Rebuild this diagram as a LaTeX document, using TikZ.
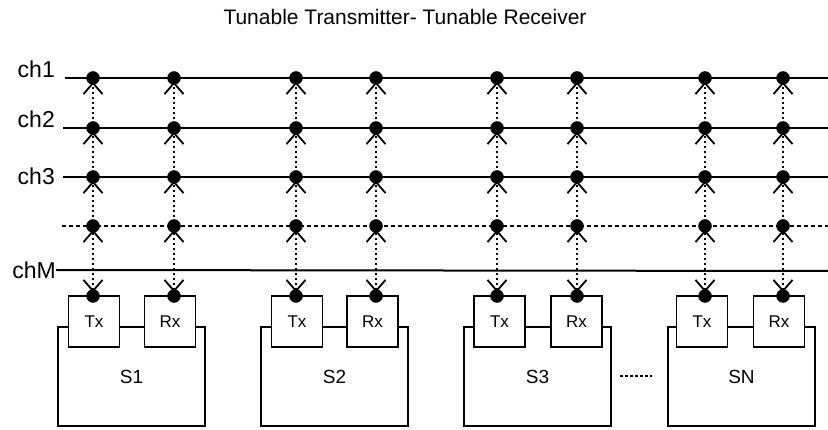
\documentclass[tikz,border=0pt]{standalone}
\usepackage{fontspec}
\setmainfont{Liberation Sans}
\usetikzlibrary{arrows.meta}
\usetikzlibrary{positioning}

\tikzset{
  dot/.style={draw,circle,fill=black,inner sep=0pt,minimum size=13pt},
  chan/.style={line width=2pt},
  dotchan/.style={line width=2pt,dash pattern=on 4pt off 3pt},
  link/.style={line width=1.8pt,dash pattern=on 2.5pt off 2.5pt,shorten >=-3pt,shorten <=-3pt},
  chlabel/.style={inner sep=0pt,font=\fontsize{23}{26}\selectfont},
  trx/.style={draw,fill=white,line width=1.8pt,minimum width=51pt,minimum height=51pt,inner sep=0pt,font=\fontsize{17}{20}\selectfont},
  station/.style={draw,line width=1.8pt,minimum width=147pt,minimum height=99pt,inner sep=0pt,font=\fontsize{19}{22}\selectfont},
  gap/.style={line width=2pt,dash pattern=on 3pt off 2pt}
}

\begin{document}
\begin{tikzpicture}[x=1pt,y=-1pt,>={Straight Barb[length=11pt,width=19pt,line width=1.8pt]}]
    \useasboundingbox (0,0) rectangle (828,430);

    \node[font=\fontsize{21}{24}\selectfont] (title) at (405,17) {Tunable Transmitter- Tunable Receiver};

    % stations
    \node[station] (s1) at (131.5,376.5) {S1};
    \node[station] (s2) at (334.5,376.5) {S2};
    \node[station] (s3) at (537.5,376.5) {S3};
    \node[station] (sN) at (741.5,376.5) {SN};
    \draw[gap, shorten <=8pt, shorten >=15pt] (s3) -- (sN);

    % channels
    \node[chlabel, anchor=base east] (l1) at (55,78) {ch1};
    \node[chlabel, anchor=base east] (l2) at (55,128) {ch2};
    \node[chlabel, anchor=east] (l3) at (55,176) {ch3};
    \node[chlabel, anchor=east] (lM) at (56,270) {chM};
    \coordinate (c1) at (65,78);   \coordinate (c1e) at (828,78);
    \coordinate (c2) at (63,128);  \coordinate (c2e) at (828,128);
    \coordinate (c3) at (63,177);  \coordinate (c3e) at (828,177);
    \coordinate (cD) at (62,226);  \coordinate (cDe) at (828,226);
    \coordinate (cMe) at (828,271);
    \draw[chan] (c1) -- (c1e);
    \draw[chan] (c2) -- (c2e);
    \draw[chan] (c3) -- (c3e);
    \draw[dotchan] (cD) -- (cDe);
    \draw[chan] (lM.east) -- (cMe);

    % transmitters and receivers
    \node[trx] (t1) at (94,321.5) {Tx};
    \node[trx] (r1) at (170,321.5) {Rx};
    \node[trx] (t2) at (297,321.5) {Tx};
    \node[trx] (r2) at (372.5,321.5) {Rx};
    \node[trx] (t3) at (499.5,321.5) {Tx};
    \node[trx] (r3) at (576.5,321.5) {Rx};
    \node[trx] (tN) at (702,321.5) {Tx};
    \node[trx] (rN) at (779,321.5) {Rx};

    % taps
    \foreach \c/\x in {a/93,b/174,c/296,d/376,e/497,f/577,g/705,h/783} {
      \node[dot] (\c1) at (\x,78) {};
      \node[dot] (\c2) at (\x,128) {};
      \node[dot] (\c3) at (\x,177) {};
      \node[dot] (\c4) at (\x,226) {};
      \node[dot] (\c5) at (\x,296) {};
      \draw[link,->] (\c2) -- (\c1);
      \draw[link,->] (\c3) -- (\c2);
      \draw[link,->] (\c4) -- (\c3);
      \draw[link,<->] (\c5) -- (\c4);
    }
  \end{tikzpicture}
\end{document}
